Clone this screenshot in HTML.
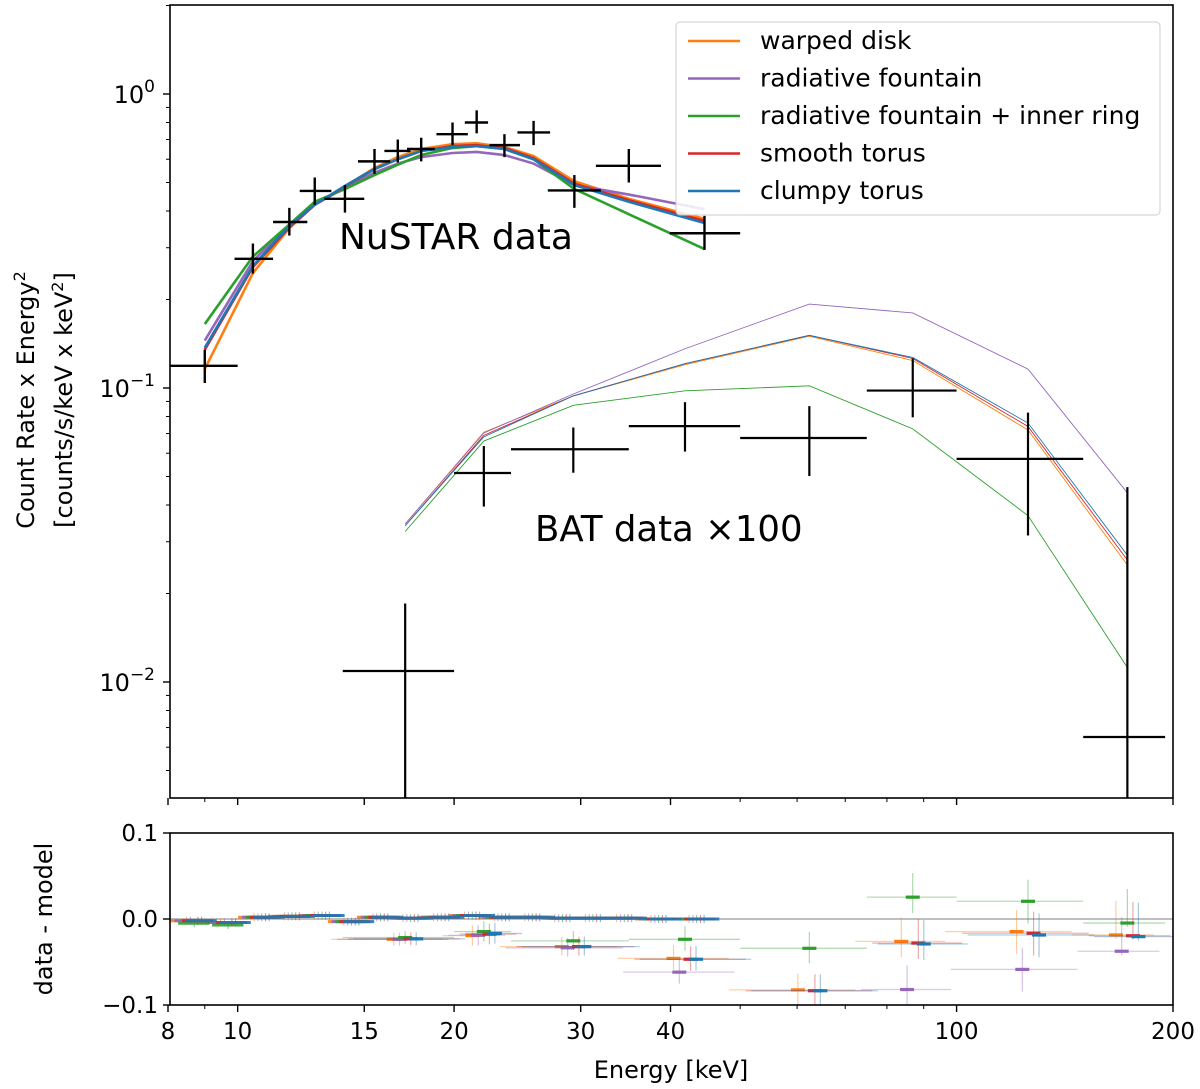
<!DOCTYPE html>
<html><head><meta charset="utf-8">
<style>
html,body{margin:0;padding:0;background:#fff;}
svg{display:block;font-family:"DejaVu Sans","Liberation Sans",sans-serif;}
</style></head>
<body>
<svg id="chart" width="1200" height="1089" viewBox="0 0 1200 1089" xmlns="http://www.w3.org/2000/svg">
<defs>
<clipPath id="mainClip"><rect x="170" y="5" width="1003" height="793"/></clipPath>
<clipPath id="resClip"><rect x="170" y="833" width="1003" height="172"/></clipPath>
</defs>
<g id="main"></g>
<g id="res"></g>
<g id="axes"></g>
<text x="339" y="249" font-size="36">NuSTAR data</text>
<text x="535" y="541" font-size="35.5">BAT data ×100</text>
<g font-size="24" text-anchor="middle">
<text transform="translate(34,400) rotate(-90)">Count Rate x Energy<tspan font-size="16" dy="-9">2</tspan></text>
<text transform="translate(72,400) rotate(-90)">[counts/s/keV x keV<tspan font-size="16" dy="-9">2</tspan><tspan dy="9">]</tspan></text>
</g>
<text transform="translate(52,919) rotate(-90)" font-size="24" text-anchor="middle">data - model</text>
<text x="671" y="1078" font-size="24" text-anchor="middle">Energy [keV]</text>
<g id="legend"></g>
</svg>
<script>
// ---- data ----
const seriesNames = ["warped disk","radiative fountain","radiative fountain + inner ring","smooth torus","clumpy torus"];
const seriesColors = ["#ff7f0e","#9467bd","#2ca02c","#d62728","#1f77b4"];

const nuE   = [9.0,10.5,11.8,12.8,14.1,15.5,16.7,18.0,19.9,21.5,23.5,25.8,29.4,35.0,44.6];
const nuVal = [0.119,0.275,0.367,0.468,0.44,0.59,0.64,0.65,0.73,0.80,0.67,0.74,0.47,0.57,0.336];
const nuElo = [8.0,9.9,11.2,12.2,13.2,14.7,16.0,17.2,18.9,20.7,22.4,24.5,27.0,31.5,39.9];
const nuEhi = [10.0,11.2,12.5,13.5,15.0,16.3,17.4,18.8,20.9,22.3,24.7,27.2,32.0,38.8,50.0];
const nuYlo = [0.104,0.245,0.33,0.42,0.395,0.535,0.585,0.59,0.67,0.735,0.61,0.67,0.41,0.50,0.295];
const nuYhi = [0.135,0.31,0.41,0.52,0.49,0.65,0.70,0.71,0.80,0.88,0.73,0.81,0.53,0.65,0.385];

const nuModOrange = [0.116,0.246,0.35,0.42,0.485,0.56,0.61,0.65,0.675,0.68,0.66,0.615,0.505,0.44,0.376];
const nuModPurple = [0.145,0.27,0.36,0.42,0.48,0.54,0.58,0.61,0.63,0.635,0.62,0.58,0.49,0.455,0.406];
const nuModGreen  = [0.165,0.28,0.36,0.43,0.475,0.53,0.575,0.62,0.655,0.665,0.65,0.60,0.475,0.39,0.297];
const nuModRed    = [0.135,0.258,0.352,0.42,0.485,0.555,0.60,0.64,0.665,0.67,0.655,0.605,0.495,0.435,0.37];
const nuModBlue   = [0.137,0.26,0.356,0.42,0.487,0.556,0.60,0.64,0.66,0.665,0.65,0.60,0.49,0.43,0.364];

const batE   = [17.1,22.0,29.3,41.9,62.4,86.9,125.7,172.8];
const batVal = [0.0109,0.0514,0.0619,0.0742,0.0676,0.098,0.0574,0.0065];
const batElo = [14.0,20.0,24.0,35.0,50.0,75.0,100.0,150.0];
const batEhi = [20.0,24.0,35.0,50.0,75.0,100.0,150.0,195.0];
const batYlo = [0.0035,0.0395,0.0515,0.0608,0.0502,0.0795,0.0315,0.002];
const batYhi = [0.0185,0.0635,0.0734,0.0895,0.0868,0.126,0.0825,0.046];

const batModOrange = [0.0345,0.0707,0.094,0.12,0.150,0.124,0.072,0.025];
const batModPurple = [0.0345,0.0703,0.0954,0.136,0.193,0.18,0.116,0.044];
const batModGreen  = [0.0325,0.066,0.0873,0.0978,0.1017,0.0726,0.0368,0.0112];
const batModRed    = [0.034,0.069,0.094,0.121,0.151,0.126,0.074,0.026];
const batModBlue   = [0.034,0.0682,0.094,0.121,0.151,0.127,0.076,0.027];

const nuResE  = [8.7,9.7,10.8,11.9,13.1,14.4,15.8,17.4,19.2,21.2,23.3,25.7,28.3,31.2,34.5,38.5,43.5];
const nuResV  = [-0.002,-0.004,0.002,0.003,0.004,-0.003,0.002,0.001,0.002,0.004,0.002,0.002,0.001,0.001,0.001,0.0,0.0];

const xTicks = [8,10,15,20,30,40,100,200];
const xMinor = [9,50,60,70,80,90];
const yMajor = [1,0.1,0.01];
const yMajorExp = ["0","\u22121","\u22122"];
const resTicks = [0.1,0.0,-0.1];
const resTickLabels = ["0.1","0.0","\u22120.1"];

const nuMods = [nuModOrange,nuModPurple,nuModGreen,nuModRed,nuModBlue];
const batMods = [batModOrange,batModPurple,batModGreen,batModRed,batModBlue];

// ---- scales ----
const X0=170,X1=1173;
function xs(E){return 168+Math.log(E/8)/Math.log(25)*1005;}
function ys(v){return 94-Math.log10(v)*294;}
function yr(r){return 919-r*860;}
const NS="http://www.w3.org/2000/svg";
function mk(tag,attrs,parent){const e=document.createElementNS(NS,tag);for(const k in attrs)e.setAttribute(k,attrs[k]);parent.appendChild(e);return e;}

const main=document.getElementById('main');
const res=document.getElementById('res');
const axes=document.getElementById('axes');
const mg=mk('g',{'clip-path':'url(#mainClip)'},main);
const rg=mk('g',{'clip-path':'url(#resClip)'},res);

nuMods.forEach((m,i)=>{
  const p=mk('polyline',{points:nuE.map((e,j)=>xs(e)+','+ys(m[j])).join(' '),fill:'none',stroke:seriesColors[i],'stroke-width':2.6},mg);
  
  
});
batMods.forEach((m,i)=>{
  const p=mk('polyline',{points:batE.map((e,j)=>xs(e)+','+ys(m[j])).join(' '),fill:'none',stroke:seriesColors[i],'stroke-width':0.9},mg);
  
  
});
nuE.forEach((e,j)=>{
  const g=mk('g',{stroke:'#000','stroke-width':2.4},mg);
  
  
  mk('line',{x1:xs(nuElo[j]),x2:xs(nuEhi[j]),y1:ys(nuVal[j]),y2:ys(nuVal[j])},g);
  mk('line',{x1:xs(e),x2:xs(e),y1:ys(nuYlo[j]),y2:ys(nuYhi[j])},g);
});
batE.forEach((e,j)=>{
  const g=mk('g',{stroke:'#000','stroke-width':2.2},mg);
  
  
  mk('line',{x1:xs(batElo[j]),x2:xs(batEhi[j]),y1:ys(batVal[j]),y2:ys(batVal[j])},g);
  mk('line',{x1:xs(e),x2:xs(e),y1:ys(batYlo[j]),y2:ys(batYhi[j])},g);
});

mk('line',{x1:X0,x2:X1,y1:yr(0),y2:yr(0),stroke:'#aaa','stroke-width':1.5},rg);
[0,1,2,3,4].forEach(i=>{
  nuResE.forEach((e,j)=>{
    const ed=e*(1+0.012*(i-2));
    const r=nuResV[j]+(i===2&&e<10?-0.003:0);
    const g=mk('g',{stroke:seriesColors[i]},rg);
    
    
    mk('line',{x1:xs(ed*0.95),x2:xs(ed*1.05),y1:yr(r),y2:yr(r),'stroke-width':3,'stroke-opacity':0.9},g);
    mk('line',{x1:xs(ed),x2:xs(ed),y1:yr(r)-4,y2:yr(r)+4,'stroke-width':1,'stroke-opacity':0.6},g);
  });
});
batMods.forEach((m,i)=>{
  batE.forEach((e,j)=>{
    const f=1+0.018*(i-2);
    const ed=e*f;
    const r=batVal[j]-m[j];
    const g=mk('g',{stroke:seriesColors[i]},rg);
    
    
    mk('line',{x1:xs(batElo[j]*f),x2:xs(batEhi[j]*f),y1:yr(r),y2:yr(r),'stroke-width':1.3,'stroke-opacity':0.35},g);
    mk('line',{x1:xs(ed),x2:xs(ed),y1:yr(r-(batVal[j]-batYlo[j])),y2:yr(r+(batYhi[j]-batVal[j])),'stroke-width':1.2,'stroke-opacity':0.4},g);
    mk('line',{x1:xs(ed)-7,x2:xs(ed)+7,y1:yr(r),y2:yr(r),'stroke-width':3.2},g);
  });
});

mk('rect',{x:X0,y:5,width:X1-X0,height:793,fill:'none',stroke:'#000','stroke-width':1.6},axes);
mk('rect',{x:X0,y:833,width:X1-X0,height:172,fill:'none',stroke:'#000','stroke-width':1.6},axes);
[798,1005].forEach(yb=>{
  xTicks.forEach(t=>mk('line',{x1:xs(t),x2:xs(t),y1:yb,y2:yb+7,stroke:'#000','stroke-width':1.4},axes));
  xMinor.forEach(t=>mk('line',{x1:xs(t),x2:xs(t),y1:yb,y2:yb+4,stroke:'#000','stroke-width':1},axes));
});
xTicks.forEach(t=>{
  const tx=mk('text',{x:xs(t),y:1039,'font-size':23,'text-anchor':'middle'},axes);
  tx.textContent=t;
  
  
});
yMajor.forEach((v,k)=>{
  mk('line',{x1:X0-7,x2:X0,y1:ys(v),y2:ys(v),stroke:'#000','stroke-width':1.4},axes);
  const tx=mk('text',{x:155,y:ys(v)+9,'font-size':24,'text-anchor':'end'},axes);
  
  
  tx.innerHTML='10<tspan font-size="17" dy="-11">'+yMajorExp[k]+'</tspan>';
});
[0.001,0.01,0.1,1].forEach(d=>{
  for(let m=2;m<=9;m++){const v=d*m;const y=ys(v);if(y>5&&y<798)mk('line',{x1:X0-4,x2:X0,y1:y,y2:y,stroke:'#000','stroke-width':1},axes);}
});
resTicks.forEach((r,k)=>{
  mk('line',{x1:X0-7,x2:X0,y1:yr(r),y2:yr(r),stroke:'#000','stroke-width':1.4},axes);
  const tx=mk('text',{x:158,y:yr(r)+8,'font-size':23,'text-anchor':'end'},axes);
  tx.textContent=resTickLabels[k];
  
  
});

const lg=document.getElementById('legend');
mk('rect',{x:676,y:22,width:484,height:193,rx:4,fill:'#fff','fill-opacity':0.85,stroke:'#ccc','stroke-width':1},lg);
seriesNames.forEach((n,i)=>{
  const y=41+i*37.5;
  const g=mk('g',{},lg);
  
  
  mk('line',{x1:688,x2:740,y1:y,y2:y,stroke:seriesColors[i],'stroke-width':2.6},g);
  const t=mk('text',{x:760,y:y+8,'font-size':25},g);
  t.textContent=n;
});
</script>
</body></html>
